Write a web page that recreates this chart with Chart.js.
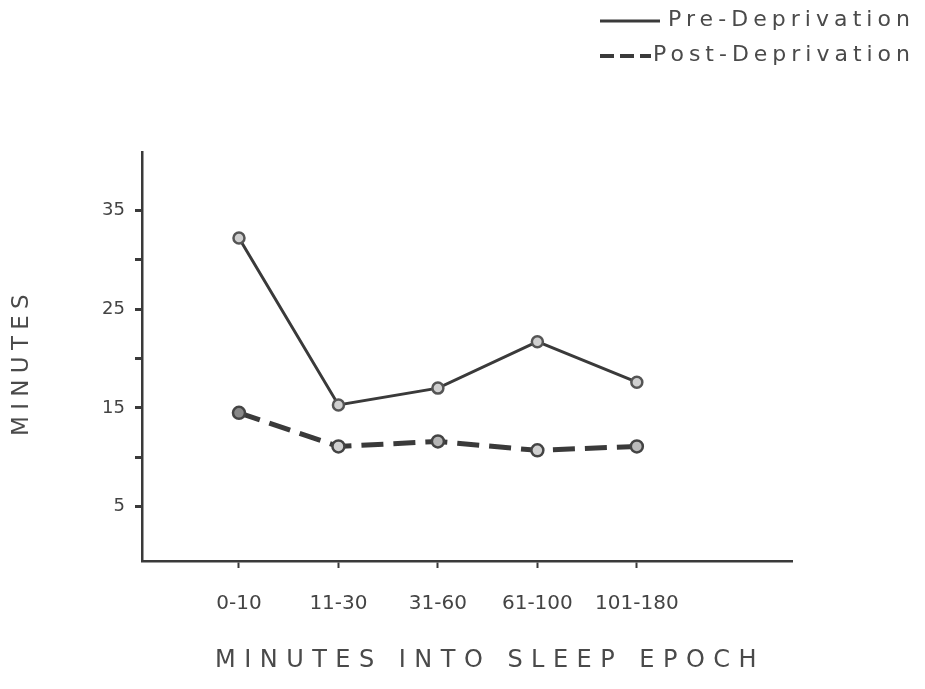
<!DOCTYPE html>
<html>
<head>
<meta charset="utf-8">
<script src="https://cdn.jsdelivr.net/npm/chart.js@4.4.1/dist/chart.umd.min.js"></script>
<style>
  html, body { margin: 0; padding: 0; background: #fff; }
  #wrap { width: 925px; height: 689px; }
</style>
</head>
<body>
<div id="wrap"><canvas id="chart" width="925" height="689"></canvas></div>
<script>
const categories = ["0-10", "11-30", "31-60", "61-100", "101-180"]
const preDeprivation = [32.2, 15.3, 17.0, 21.7, 17.6]
const postDeprivation = [14.5, 11.1, 11.6, 10.7, 11.1]
const yTicks = [5, 10, 15, 20, 25, 30, 35]
const yLabels = [5, 15, 25, 35]

const ink = "#3a3a3a"
const font = "DejaVu Sans"

// draws text stretched to a given width with letter spacing, like the hand lettering
const fitText = (ctx, text, x, y, width) => {
  ctx.letterSpacing = "0px"
  const w = ctx.measureText(text).width
  const spacing = Math.max(0, (width - w) / text.length)
  ctx.letterSpacing = spacing + "px"
  ctx.fillText(text, x, y)
  ctx.letterSpacing = "0px"
}

const lettering = {
  id: "lettering",
  afterDraw(chart) {
    const ctx = chart.ctx
    ctx.save()
    ctx.fillStyle = "#4a4a4a"
    ctx.textBaseline = "middle"
    ctx.textAlign = "left"

    // legend
    ctx.strokeStyle = ink
    ctx.lineWidth = 3
    ctx.beginPath()
    ctx.moveTo(600, 21)
    ctx.lineTo(660, 21)
    ctx.stroke()
    ctx.lineWidth = 4
    ctx.setLineDash([14, 6])
    ctx.beginPath()
    ctx.moveTo(600, 56)
    ctx.lineTo(651, 56)
    ctx.stroke()
    ctx.setLineDash([])

    ctx.font = "22px '" + font + "'"
    fitText(ctx, "Pre-Deprivation", 668, 20, 247)
    fitText(ctx, "Post-Deprivation", 653, 55, 262)

    // axis titles
    ctx.font = "24px '" + font + "'"
    fitText(ctx, "MINUTES INTO SLEEP EPOCH", 215, 661, 550)

    ctx.translate(22, 436)
    ctx.rotate(-Math.PI / 2)
    ctx.font = "23px '" + font + "'"
    fitText(ctx, "MINUTES", 0, 0, 148)
    ctx.restore()
  },
}

const chart = new Chart(document.getElementById("chart"), {
  type: "line",
  data: {
    datasets: [
      {
        label: "Pre-Deprivation",
        data: preDeprivation.map((v, i) => ({ x: i, y: v })),
        borderColor: ink,
        borderWidth: 3,
        pointRadius: 5.5,
        pointBorderWidth: 2.5,
        pointBorderColor: "#555",
        pointBackgroundColor: "#d0d0d0",
        tension: 0,
      },
      {
        label: "Post-Deprivation",
        data: postDeprivation.map((v, i) => ({ x: i, y: v })),
        borderColor: ink,
        borderWidth: 5,
        borderDash: [22, 10],
        pointRadius: 6,
        pointBorderWidth: 2.5,
        pointBorderColor: "#444",
        pointBackgroundColor: ["#888", "#d0d0d0", "#b5b5b5", "#d0d0d0", "#bbb"],
        tension: 0,
      },
    ],
  },
  options: {
    responsive: false,
    animation: false,
    layout: { padding: { top: 152, right: 133, left: 0, bottom: 0 } },
    plugins: {
      legend: { display: false },
      tooltip: { enabled: false },
    },
    scales: {
      x: {
        type: "linear",
        min: -0.975,
        max: 5.56,
        afterBuildTicks: scale => { scale.ticks = categories.map((c, i) => ({ value: i })) },
        afterFit: scale => { scale.height = 128 },
        border: { display: true, color: ink, width: 2.5 },
        grid: { drawOnChartArea: false, drawTicks: true, tickLength: 7, tickWidth: 2, tickColor: ink },
        ticks: {
          autoSkip: false,
          maxRotation: 0,
          padding: 24,
          color: "#444",
          font: { family: font, size: 20 },
          callback: value => categories[value],
        },
      },
      y: {
        type: "linear",
        min: -0.5,
        max: 40.9,
        afterBuildTicks: scale => { scale.ticks = yTicks.map(v => ({ value: v })) },
        afterFit: scale => { scale.width = 142 },
        border: { display: true, color: ink, width: 2.5 },
        grid: { drawOnChartArea: false, drawTicks: true, tickLength: 7, tickWidth: 3, tickColor: ink },
        ticks: {
          autoSkip: false,
          padding: 10,
          color: "#444",
          font: { family: font, size: 18 },
          callback: value => yLabels.includes(value) ? String(value) : "",
        },
      },
    },
  },
  plugins: [lettering],
})
</script>
</body>
</html>
